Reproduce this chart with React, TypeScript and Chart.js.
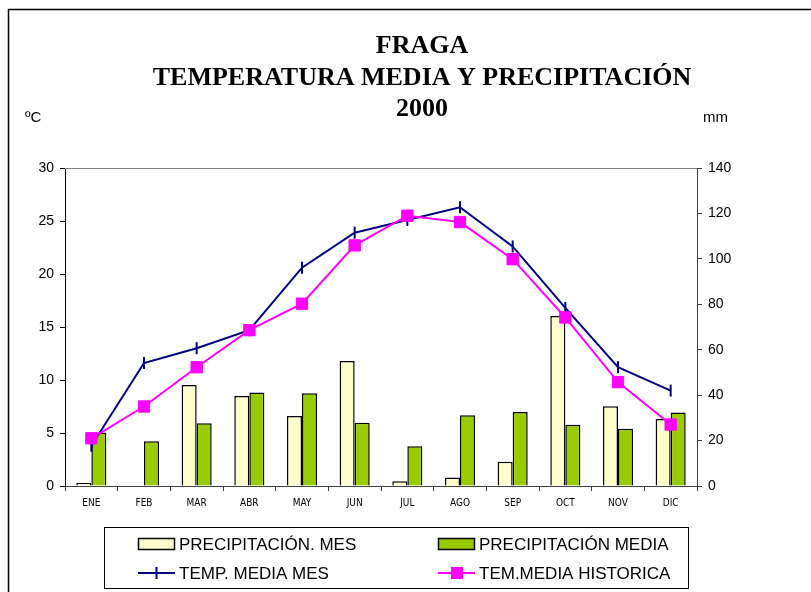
import React, { useEffect, useRef } from "react";
import { Chart, registerables } from "chart.js";

Chart.register(...registerables);

const TITLE_LINES = ["FRAGA", "TEMPERATURA MEDIA Y PRECIPITACIÓN", "2000"];
const LEFT_UNIT = "ºC";
const RIGHT_UNIT = "mm";
const MONTHS = ["ENE", "FEB", "MAR", "ABR", "MAY", "JUN", "JUL", "AGO", "SEP", "OCT", "NOV", "DIC"];
const PRECIP_MES = [1.3, 0, 44.5, 39.6, 30.8, 55, 2.1, 3.7, 10.7, 74.8, 35.1, 29.5];
const PRECIP_MEDIA = [23.5, 19.7, 27.6, 41.2, 40.8, 27.9, 17.5, 31.1, 32.6, 27.0, 25.2, 32.4];
const TEMP_MES = [3.8, 11.6, 13.0, 14.7, 20.6, 23.9, 25.1, 26.3, 22.6, 16.8, 11.2, 9.0];
const TEMP_HIST = [4.5, 7.5, 11.2, 14.7, 17.2, 22.7, 25.5, 24.9, 21.4, 15.9, 9.8, 5.8];
const LABELS = ["PRECIPITACIÓN. MES", "PRECIPITACIÓN MEDIA", "TEMP. MEDIA MES", "TEM.MEDIA HISTORICA"];

const SANS = '"Liberation Sans", Arial, sans-serif';
const SERIF = '"Liberation Serif", "Times New Roman", serif';

const decorPlugin = {
  id: "decor",
  beforeDraw(chart: any) {
    const ctx = chart.ctx;
    ctx.save();
    ctx.fillStyle = "#fff";
    ctx.fillRect(0, 0, chart.width, chart.height);
    ctx.restore();
  },
  beforeDatasetsDraw(chart: any) {
    const { ctx, chartArea } = chart;
    ctx.save();
    ctx.strokeStyle = "#808080";
    ctx.lineWidth = 1;
    ctx.beginPath();
    ctx.moveTo(chartArea.left, chartArea.top + 0.5);
    ctx.lineTo(chartArea.right, chartArea.top + 0.5);
    ctx.stroke();
    ctx.restore();
  },
  afterDraw(chart: any) {
    const { ctx } = chart;
    ctx.save();
    // outer frame
    ctx.strokeStyle = "#000";
    ctx.lineWidth = 1.5;
    ctx.beginPath();
    ctx.moveTo(8.5, chart.height);
    ctx.lineTo(8.5, 9.5);
    ctx.lineTo(chart.width, 9.5);
    ctx.stroke();

    // title
    ctx.fillStyle = "#000";
    ctx.textAlign = "center";
    ctx.textBaseline = "alphabetic";
    ctx.font = `bold 26px ${SERIF}`;
    const baselines = [53, 85, 116];
    TITLE_LINES.forEach((t, i) => ctx.fillText(t, 422, baselines[i]));

    // units
    ctx.font = `15px ${SANS}`;
    ctx.textAlign = "left";
    ctx.textBaseline = "middle";
    ctx.fillText(LEFT_UNIT, 25, 118);
    ctx.fillText(RIGHT_UNIT, 703, 118);

    // legend box
    ctx.strokeStyle = "#000";
    ctx.lineWidth = 1;
    ctx.strokeRect(104.5, 527.5, 584, 61);

    const ds = chart.data.datasets;
    const items = [
      { x: 138, y: 544, i: 0 },
      { x: 438, y: 544, i: 1 },
      { x: 138, y: 573, i: 2 },
      { x: 438, y: 573, i: 3 },
    ];
    ctx.font = `17px ${SANS}`;
    ctx.textAlign = "left";
    ctx.textBaseline = "middle";
    items.forEach(({ x, y, i }) => {
      const d = ds[i];
      if (d.type === "bar") {
        ctx.fillStyle = d.backgroundColor;
        ctx.fillRect(x, y - 6, 37, 12);
        ctx.strokeStyle = "#000";
        ctx.lineWidth = 1.5;
        ctx.strokeRect(x + 0.5, y - 5.5, 36, 11);
      } else {
        ctx.strokeStyle = d.borderColor;
        ctx.lineWidth = 2;
        ctx.beginPath();
        ctx.moveTo(x, y);
        ctx.lineTo(x + 37, y);
        ctx.stroke();
        if (d.pointStyle === "rect") {
          ctx.fillStyle = d.borderColor;
          ctx.fillRect(x + 13, y - 6, 12, 12);
        } else {
          ctx.beginPath();
          ctx.moveTo(x + 18.5, y - 6);
          ctx.lineTo(x + 18.5, y + 6);
          ctx.stroke();
        }
      }
      ctx.fillStyle = "#000";
      ctx.fillText(d.label, x + 41, y + 1);
    });
    ctx.restore();
  },
};

export default function App() {
  const ref = useRef<HTMLCanvasElement | null>(null);
  useEffect(() => {
    if (!ref.current) return;
    const axisFont = { family: SANS, size: 14 };
    const chart = new Chart(ref.current, {
      data: {
        labels: MONTHS,
        datasets: [
          {
            type: "bar",
            label: LABELS[0],
            data: PRECIP_MES,
            yAxisID: "y1",
            backgroundColor: "#FFFFCC",
            borderColor: "#000",
            borderWidth: 1.5,
            borderSkipped: "start",
            categoryPercentage: 0.571,
            barPercentage: 1,
            order: 3,
          },
          {
            type: "bar",
            label: LABELS[1],
            data: PRECIP_MEDIA,
            yAxisID: "y1",
            backgroundColor: "#99CC00",
            borderColor: "#000",
            borderWidth: 1.5,
            borderSkipped: "start",
            categoryPercentage: 0.571,
            barPercentage: 1,
            order: 3,
          },
          {
            type: "line",
            label: LABELS[2],
            data: TEMP_MES,
            yAxisID: "y",
            borderColor: "#000080",
            backgroundColor: "#000080",
            borderWidth: 2,
            pointStyle: "line",
            pointRadius: 6,
            pointRotation: 90,
            pointBorderColor: "#000080",
            pointBorderWidth: 2,
            tension: 0,
            order: 2,
          },
          {
            type: "line",
            label: LABELS[3],
            data: TEMP_HIST,
            yAxisID: "y",
            borderColor: "#FF00FF",
            backgroundColor: "#FF00FF",
            borderWidth: 2,
            pointStyle: "rect",
            pointRadius: 8,
            pointBackgroundColor: "#FF00FF",
            pointBorderColor: "#FF00FF",
            pointBorderWidth: 1,
            tension: 0,
            order: 1,
          },
        ],
      } as any,
      options: {
        animation: false,
        responsive: false,
        maintainAspectRatio: false,
        layout: { padding: { top: 168, left: 0, right: 0, bottom: 0 } },
        plugins: { legend: { display: false }, tooltip: { enabled: false }, title: { display: false } },
        scales: {
          x: {
            offset: true,
            grid: { offset: true, drawOnChartArea: false, drawTicks: true, tickLength: 5, color: "#404040" },
            border: { color: "#404040", width: 1 },
            ticks: {
              font: { family: '"Liberation Sans Narrow", "DejaVu Sans Condensed", Arial, sans-serif', size: 10 },
              color: "#000",
              padding: 6,
              maxRotation: 0,
              autoSkip: false,
            },
            afterFit: (s: any) => {
              s.height = 106;
            },
          },
          y: {
            position: "left",
            min: 0,
            max: 30,
            ticks: { stepSize: 5, font: axisFont, color: "#000", padding: 6 },
            grid: { drawOnChartArea: false, drawTicks: true, tickLength: 5, color: "#000" },
            border: { color: "#000", width: 1 },
            afterFit: (s: any) => {
              s.width = 65;
            },
          },
          y1: {
            position: "right",
            min: 0,
            max: 140,
            ticks: { stepSize: 20, font: axisFont, color: "#000", padding: 6 },
            grid: { drawOnChartArea: false, drawTicks: true, tickLength: 5, color: "#404040" },
            border: { color: "#404040", width: 1 },
            afterFit: (s: any) => {
              s.width = 114;
            },
          },
        },
      } as any,
      plugins: [decorPlugin],
    });
    return () => chart.destroy();
  }, []);
  return (
    <div style={{ position: "fixed", left: 0, top: 0, width: 811, height: 592, overflow: "hidden" }}>
      <canvas ref={ref} width={811} height={592} style={{ display: "block" }} />
    </div>
  );
}
